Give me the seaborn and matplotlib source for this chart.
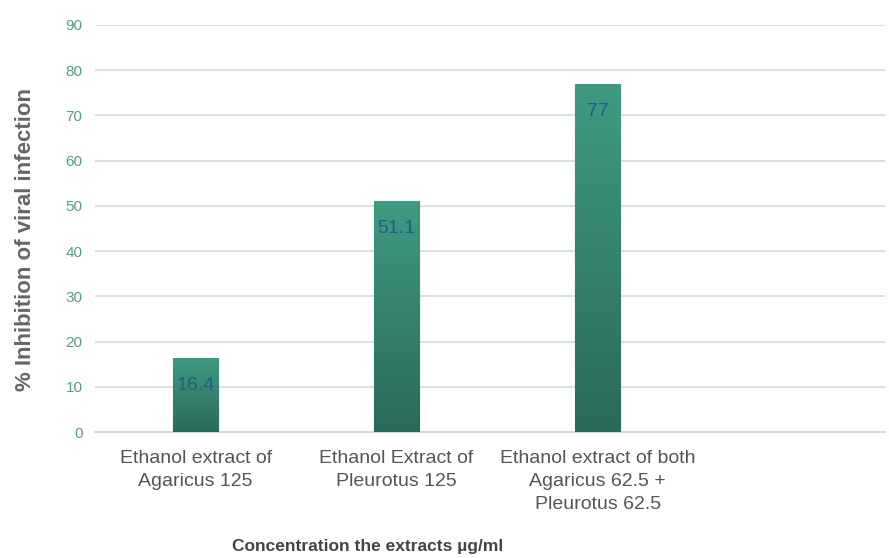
import numpy as np
import pandas as pd
import matplotlib
matplotlib.use("Agg")
import matplotlib.pyplot as plt
from matplotlib.colors import LinearSegmentedColormap
import seaborn as sns

# Data
categories = [
    "Ethanol extract of\nAgaricus 125",
    "Ethanol Extract of\nPleurotus 125",
    "Ethanol extract of both\nAgaricus 62.5 +\nPleurotus 62.5",
    " ",
]
inhibition = [16.4, 51.1, 77.0, np.nan]
value_labels = ["16.4", "51.1", "77", ""]
y_ticks = [0, 10, 20, 30, 40, 50, 60, 70, 80, 90]

df = pd.DataFrame({"extract": categories, "inhibition": inhibition})

sns.set_theme(style="white")
plt.rcParams["font.family"] = ["Liberation Sans", "DejaVu Sans"]

fig = plt.figure(figsize=(8.89, 5.58), dpi=100)
ax = fig.add_axes([0.107, 0.2258, 0.8885, 0.7294])

sns.barplot(data=df, x="extract", y="inhibition", order=categories,
            color="#34826e", width=0.225, ax=ax, zorder=3)

# vertical gradient fill for each bar
grad_cmap = LinearSegmentedColormap.from_list("bar_grad", ["#2a6a5a", "#3f9b83"])
grad = np.linspace(0, 1, 256).reshape(-1, 1)
for patch in ax.patches:
    h = patch.get_height()
    if not np.isfinite(h) or h <= 0:
        continue
    x0 = patch.get_x()
    w = patch.get_width()
    patch.set_facecolor("none")
    patch.set_edgecolor("#2b6c5c")
    patch.set_linewidth(0.8)
    im = ax.imshow(grad, extent=(x0, x0 + w, 0, h), origin="lower",
                   cmap=grad_cmap, aspect="auto", zorder=3)
    im.set_clip_path(patch)

# value labels inside the bar tops
for i, (v, lab) in enumerate(zip(inhibition, value_labels)):
    if lab:
        ax.annotate(lab, xy=(i, v), xytext=(0, -20), textcoords="offset points",
                    ha="center", va="center", fontsize=14, color="#1f5f86",
                    zorder=5)

ax.set_xlim(-0.5, 3.43)
ax.set_ylim(0, 90)
ax.set_yticks(y_ticks)
ax.set_yticklabels([str(t) for t in y_ticks], color="#56a07a", fontsize=11)
ax.tick_params(axis="y", length=0, pad=9)
ax.tick_params(axis="x", length=0, pad=13, labelsize=14, labelcolor="#555555")
for t in ax.get_xticklabels():
    t.set_linespacing(1.45)
ax.yaxis.grid(True, color="#d6e1dd", linewidth=1.4, zorder=0)
ax.set_axisbelow(True)
for s in ["top", "right", "left"]:
    ax.spines[s].set_visible(False)
ax.spines["bottom"].set_color("#cfdcd8")
ax.spines["bottom"].set_linewidth(1.4)

ax.set_xlabel("")
ax.set_ylabel("% Inhibition of viral infection", fontsize=16, fontweight="bold",
              color="#666666")
ax.yaxis.set_label_coords(-0.075, 0.474)
fig.text(0.413, 0.02, "Concentration the extracts µg/ml", ha="center", va="center",
         fontsize=12.5, fontweight="bold", color="#444444")

fig.savefig("out.png", dpi=100)
